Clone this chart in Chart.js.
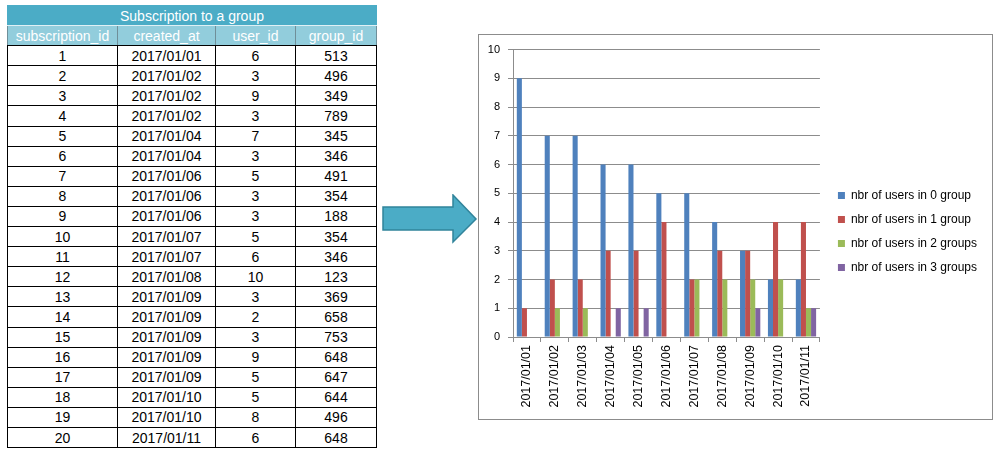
<!DOCTYPE html>
<html>
<head>
<meta charset="utf-8">
<script src="https://cdn.jsdelivr.net/npm/chart.js@4"></script>
<style>
    body { margin: 0; background: #fff; width: 999px; height: 454px; position: relative; overflow: hidden; }
    #tbl { position: absolute; left: 7px; top: 5px; border-collapse: collapse; font-family: "Liberation Sans", Arial, sans-serif; font-size: 14px; }
    #tbl td { border: 1px solid #000; padding: 0; height: 19.1px; text-align: center; color: #000; }
    #tbl tr.title td { background: #4BACC6; color: #fff; border-color: #4BACC6; border-bottom-color: #dff0f5; }
    #tbl tr.head td { background: #92CDDC; color: #fff; border-color: #6f8f99; border-top-color: #dff0f5; border-bottom-color: #000; }
    #arrow { position: absolute; left: 382px; top: 194px; }
    #frame { position: absolute; left: 478px; top: 34px; width: 513px; height: 384px; border: 1px solid #8c8c8c; }
</style>
</head>
<body>
<table id="tbl">
    <colgroup><col style="width:110px"><col style="width:98px"><col style="width:80px"><col style="width:81px"></colgroup>
    <tbody id="tblBody"></tbody>
</table>
<svg id="arrow" width="98" height="52">
    <polygon points="1,13 71,13 71,1 94,25 71,48 71,36 1,36" fill="#4BACC6" stroke="#31849B" stroke-width="1.5"/>
</svg>
<div id="frame"><canvas id="groupsChart" width="513" height="384"></canvas></div>
<script>
// جدول الاشتراكات
const tableTitle = 'Subscription to a group';
const tableHeaders = ['subscription_id', 'created_at', 'user_id', 'group_id'];
const subscriptionIds = [1, 2, 3, 4, 5, 6, 7, 8, 9, 10, 11, 12, 13, 14, 15, 16, 17, 18, 19, 20];
const createdAt = ['2017/01/01', '2017/01/02', '2017/01/02', '2017/01/02', '2017/01/04', '2017/01/04',
    '2017/01/06', '2017/01/06', '2017/01/06', '2017/01/07', '2017/01/07', '2017/01/08', '2017/01/09',
    '2017/01/09', '2017/01/09', '2017/01/09', '2017/01/09', '2017/01/10', '2017/01/10', '2017/01/11'];
const userIds = [6, 3, 9, 3, 7, 3, 5, 3, 3, 5, 6, 10, 3, 2, 3, 9, 5, 5, 8, 6];
const groupIds = [513, 496, 349, 789, 345, 346, 491, 354, 188, 354, 346, 123, 369, 658, 753, 648, 647, 644, 496, 648];

// بيانات المخطط
const dates = ['2017/01/01', '2017/01/02', '2017/01/03', '2017/01/04', '2017/01/05', '2017/01/06',
    '2017/01/07', '2017/01/08', '2017/01/09', '2017/01/10', '2017/01/11'];
const usersIn0 = [9, 7, 7, 6, 6, 5, 5, 4, 3, 2, 2];
const usersIn1 = [1, 2, 2, 3, 3, 4, 2, 3, 3, 4, 4];
const usersIn2 = [0, 1, 1, 0, 0, 0, 2, 2, 2, 2, 1];
const usersIn3 = [0, 0, 0, 1, 1, 0, 0, 0, 1, 0, 1];
const yTicks = [0, 1, 2, 3, 4, 5, 6, 7, 8, 9, 10];

function buildTable() {
    const body = document.getElementById('tblBody');
    let html = `<tr class="title"><td colspan="4">${tableTitle}</td></tr>`;
    html += '<tr class="head">' + tableHeaders.map(h => `<td>${h}</td>`).join('') + '</tr>';
    subscriptionIds.forEach((id, i) => {
        html += `<tr><td>${id}</td><td>${createdAt[i]}</td><td>${userIds[i]}</td><td>${groupIds[i]}</td></tr>`;
    });
    body.innerHTML = html;
}

function initializeChart() {
    const ctx = document.getElementById('groupsChart').getContext('2d');
    const family = '"Liberation Sans", Arial, sans-serif';
    new Chart(ctx, {
        type: 'bar',
        data: {
            labels: dates,
            datasets: [
                { label: 'nbr of users in 0 group', data: usersIn0, backgroundColor: '#4F81BD' },
                { label: 'nbr of users in 1 group', data: usersIn1, backgroundColor: '#C0504D' },
                { label: 'nbr of users in 2 groups', data: usersIn2, backgroundColor: '#9BBB59' },
                { label: 'nbr of users in 3 groups', data: usersIn3, backgroundColor: '#8064A2' }
            ]
        },
        options: {
            responsive: false,
            animation: false,
            categoryPercentage: 0.727,
            barPercentage: 1,
            layout: { padding: { top: 9, right: 5, bottom: 0, left: 0 } },
            plugins: {
                tooltip: { enabled: false },
                legend: {
                    position: 'right',
                    maxWidth: 200,
                    labels: { boxWidth: 7, boxHeight: 7, padding: 12, color: '#000', font: { family: family, size: 12 } }
                }
            },
            scales: {
                x: {
                    grid: { drawOnChartArea: false, drawTicks: true, tickLength: 5, color: '#8c8c8c', offset: true },
                    border: { color: '#8c8c8c' },
                    ticks: { color: '#000', font: { family: family, size: 12.5 }, minRotation: 90, maxRotation: 90, autoSkip: false, padding: 3 },
                    afterFit: s => { s.height = 82; }
                },
                y: {
                    min: 0,
                    max: 10,
                    afterBuildTicks: s => { s.ticks = yTicks.map(v => ({ value: v })); },
                    grid: { color: '#8c8c8c', tickLength: 5 },
                    border: { color: '#8c8c8c' },
                    ticks: { color: '#000', font: { family: family, size: 11 }, padding: 8 },
                    afterFit: s => { s.width = 34; }
                },
                gap: {
                    position: 'right',
                    display: true,
                    grid: { display: false },
                    border: { display: false },
                    ticks: { display: false },
                    afterFit: s => { s.width = 6; }
                }
            }
        }
    });
}

document.addEventListener('DOMContentLoaded', function() {
    buildTable();
    initializeChart();
});
</script>
</body>
</html>
